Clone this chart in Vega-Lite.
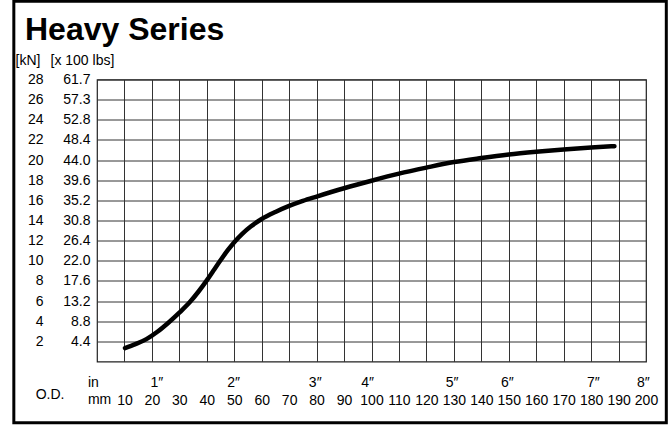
{
  "$schema": "https://vega.github.io/schema/vega-lite/v6.json",
  "autosize": {"type": "none"},
  "width": 549,
  "height": 282,
  "padding": {"left": 97, "top": 79.5, "right": 23, "bottom": 63.5},
  "background": "white",
  "config": {
    "font": "Liberation Sans",
    "view": {"stroke": "#222", "strokeWidth": 1.2},
    "axis": {
      "labelFont": "Liberation Sans",
      "labelFontSize": 14,
      "labelColor": "black",
      "titleFont": "Liberation Sans",
      "titleFontSize": 14,
      "titleFontWeight": "normal",
      "titleColor": "black",
      "ticks": false,
      "tickSize": 0,
      "domain": false,
      "gridColor": "#333",
      "gridOpacity": 1,
      "gridWidth": 1
    }
  },
  "title": {
    "text": "Heavy Series",
    "anchor": "start",
    "frame": "group",
    "font": "Liberation Sans",
    "fontSize": 32,
    "fontWeight": "bold",
    "color": "black",
    "dx": -72,
    "offset": 6,
    "dy": 53
  },
  "datasets": {
    "curve": [
      {"mm": 10.2, "kN": 1.33},
      {"mm": 14, "kN": 1.72},
      {"mm": 18, "kN": 2.22},
      {"mm": 22, "kN": 2.95},
      {"mm": 26, "kN": 3.85},
      {"mm": 30, "kN": 4.85},
      {"mm": 34, "kN": 5.95},
      {"mm": 37, "kN": 6.95},
      {"mm": 40, "kN": 8.05},
      {"mm": 42.5, "kN": 9.05},
      {"mm": 45, "kN": 10.05},
      {"mm": 47.5, "kN": 11.0},
      {"mm": 50, "kN": 11.85},
      {"mm": 53, "kN": 12.7},
      {"mm": 56, "kN": 13.4},
      {"mm": 60, "kN": 14.15},
      {"mm": 65, "kN": 14.85},
      {"mm": 70, "kN": 15.45},
      {"mm": 75, "kN": 15.95},
      {"mm": 80, "kN": 16.38},
      {"mm": 90, "kN": 17.2},
      {"mm": 100, "kN": 17.95},
      {"mm": 110, "kN": 18.65},
      {"mm": 120, "kN": 19.25},
      {"mm": 130, "kN": 19.8},
      {"mm": 140, "kN": 20.2},
      {"mm": 150, "kN": 20.55},
      {"mm": 160, "kN": 20.82},
      {"mm": 170, "kN": 21.05},
      {"mm": 180, "kN": 21.25},
      {"mm": 188.5, "kN": 21.38}
    ],
    "inches": [
      {"inch": "1″", "mm": 21.8},
      {"inch": "2″", "mm": 49.8},
      {"inch": "3″", "mm": 79.5},
      {"inch": "4″", "mm": 98.6},
      {"inch": "5″", "mm": 129.4},
      {"inch": "6″", "mm": 149.5},
      {"inch": "7″", "mm": 180.8},
      {"inch": "8″", "mm": 199}
    ]
  },
  "resolve": {"axis": {"y": "independent", "x": "independent"}},
  "layer": [
    {
      "data": {"values": [{}]},
      "mark": {"type": "rect", "fill": null, "stroke": "black", "strokeWidth": 3, "clip": false},
      "encoding": {
        "x": {"datum": -30.3, "type": "quantitative", "scale": {"domain": [0, 200], "nice": false, "zero": false}, "axis": null},
        "x2": {"datum": 207.4},
        "y": {"datum": -6.08, "type": "quantitative", "scale": {"domain": [0, 28], "nice": false, "zero": false}, "axis": null},
        "y2": {"datum": 35.76}
      }
    },
    {
      "data": {"name": "curve"},
      "mark": {"type": "line", "color": "black", "strokeWidth": 4.5, "strokeCap": "round", "strokeJoin": "round", "interpolate": "monotone"},
      "encoding": {
        "x": {
          "field": "mm", "type": "quantitative",
          "scale": {"domain": [0, 200], "nice": false, "zero": false},
          "axis": {
            "orient": "bottom",
            "title": null,
            "values": [10, 20, 30, 40, 50, 60, 70, 80, 90, 100, 110, 120, 130, 140, 150, 160, 170, 180, 190, 200],
            "grid": true,
            "labelPadding": 32,
            "labelFlush": false,
            "labelOverlap": false
          }
        },
        "y": {
          "field": "kN", "type": "quantitative",
          "scale": {"domain": [0, 28], "nice": false, "zero": false},
          "axis": {
            "orient": "left",
            "values": [2, 4, 6, 8, 10, 12, 14, 16, 18, 20, 22, 24, 26, 28],
            "grid": true,
            "labelPadding": 7,
            "labelOverlap": false,
            "labelExpr": "datum.value == 26 ? '57.3' : datum.value == 28 ? '61.7' : format(datum.value * 2.2, '.1f')",
            "title": "[x 100 lbs]",
            "titleAngle": 0,
            "titleAlign": "left",
            "titleBaseline": "alphabetic",
            "titleX": -47,
            "titleY": -15.5
          }
        }
      }
    },
    {
      "data": {"name": "curve"},
      "mark": {"type": "point", "opacity": 0},
      "encoding": {
        "x": {"field": "mm", "type": "quantitative", "axis": null},
        "y": {
          "field": "kN", "type": "quantitative",
          "axis": {
            "orient": "left",
            "offset": 47,
            "values": [2, 4, 6, 8, 10, 12, 14, 16, 18, 20, 22, 24, 26, 28],
            "grid": false,
            "labelPadding": 7,
            "labelOverlap": false,
            "title": "[kN]",
            "titleAngle": 0,
            "titleAlign": "left",
            "titleBaseline": "alphabetic",
            "titleX": -35,
            "titleY": -15.5
          }
        }
      }
    },
    {
      "data": {"name": "inches"},
      "mark": {"type": "text", "fontSize": 14, "color": "black", "baseline": "middle", "align": "center", "clip": false},
      "encoding": {
        "x": {"field": "mm", "type": "quantitative", "axis": null},
        "y": {"datum": -2.1, "type": "quantitative", "axis": null},
        "text": {"field": "inch"}
      }
    },
    {
      "data": {"values": [{}]},
      "mark": {"type": "text", "text": "in", "fontSize": 14, "color": "black", "baseline": "middle", "align": "left", "clip": false},
      "encoding": {
        "x": {"datum": -3.3, "type": "quantitative", "axis": null},
        "y": {"datum": -2.1, "type": "quantitative", "axis": null}
      }
    },
    {
      "data": {"values": [{}]},
      "mark": {"type": "text", "text": "mm", "fontSize": 14, "color": "black", "baseline": "middle", "align": "left", "clip": false},
      "encoding": {
        "x": {"datum": -3.3, "type": "quantitative", "axis": null},
        "y": {"datum": -3.85, "type": "quantitative", "axis": null}
      }
    },
    {
      "data": {"values": [{}]},
      "mark": {"type": "text", "text": "O.D.", "fontSize": 14, "color": "black", "baseline": "middle", "align": "center", "clip": false},
      "encoding": {
        "x": {"datum": -17.1, "type": "quantitative", "axis": null},
        "y": {"datum": -3.3, "type": "quantitative", "axis": null}
      }
    }
  ]
}
